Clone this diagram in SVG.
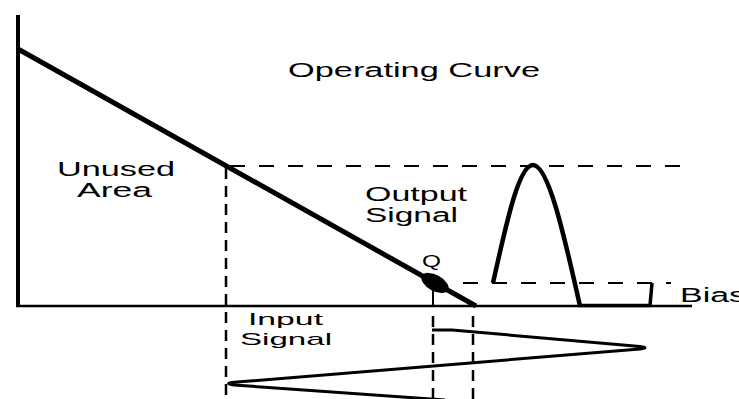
<svg xmlns="http://www.w3.org/2000/svg" width="739" height="399" viewBox="0 0 739 399">
<style>
  text { font-family: "Liberation Sans", Arial, sans-serif; fill: #000; }
  .lbl { font-size: 20px; }
  .solid { fill: none; stroke: #000; stroke-linecap: butt; stroke-linejoin: round; }
  .dh { fill: none; stroke: #000; stroke-width: 2; stroke-dasharray: 15 14; }
  .dv { fill: none; stroke: #000; stroke-width: 2.5; stroke-dasharray: 11 7; }
</style>
<rect width="739" height="399" fill="#fff"/>
<g id="axes">
  <line class="solid" x1="18" y1="15" x2="18" y2="307" stroke-width="4"/>
  <line class="solid" x1="16" y1="306" x2="692" y2="306" stroke-width="2.5"/>
</g>
<g id="guides">
  <line class="dh" x1="230" y1="166" x2="693" y2="166"/>
  <line class="dv" x1="226" y1="168" x2="226" y2="399"/>
  <line class="dh" x1="463" y1="283" x2="671" y2="283"/>
  <line class="solid" x1="433" y1="288" x2="433" y2="306" stroke-width="2"/>
  <line class="dv" x1="433" y1="316" x2="433" y2="399"/>
  <line class="dv" x1="473" y1="316" x2="473" y2="399"/>
</g>
<g id="operating-curve">
  <line class="solid" x1="18" y1="49" x2="476" y2="306" stroke-width="5"/>
  <ellipse cx="435" cy="283" rx="15" ry="8" transform="rotate(29.3 435 283)" fill="#000"/>
</g>
<g id="output-signal">
  <path class="solid" stroke-width="4.5" d="M493,283 C505,230 518,165 533,165 C548,165 563,230 580,306"/>
  <path class="solid" stroke-width="3.5" d="M578,305.5 L650,305.5 L652,283"/>
</g>
<g id="input-signal">
  <path class="solid" stroke-width="3" d="M432,330 L452,330 L640,346.5 Q650,347.7 640,349 L234,382.3 Q223,383.5 234,385 L445,400"/>
</g>
<g id="labels">
  <text class="lbl" x="288" y="77" font-size="21" textLength="252" lengthAdjust="spacingAndGlyphs">Operating Curve</text>
  <text class="lbl" x="57" y="176" textLength="118" lengthAdjust="spacingAndGlyphs">Unused</text>
  <text class="lbl" x="77" y="197" textLength="75" lengthAdjust="spacingAndGlyphs">Area</text>
  <text class="lbl" x="365" y="201" textLength="102" lengthAdjust="spacingAndGlyphs">Output</text>
  <text class="lbl" x="365" y="222" textLength="93" lengthAdjust="spacingAndGlyphs">Signal</text>
  <text x="248" y="325" font-size="17" textLength="75" lengthAdjust="spacingAndGlyphs">Input</text>
  <text x="240" y="345" font-size="17" textLength="92" lengthAdjust="spacingAndGlyphs">Signal</text>
  <text x="422" y="267" font-size="17" textLength="19" lengthAdjust="spacingAndGlyphs">Q</text>
  <text class="lbl" x="680" y="302" textLength="66" lengthAdjust="spacingAndGlyphs">Bias</text>
</g>
</svg>
